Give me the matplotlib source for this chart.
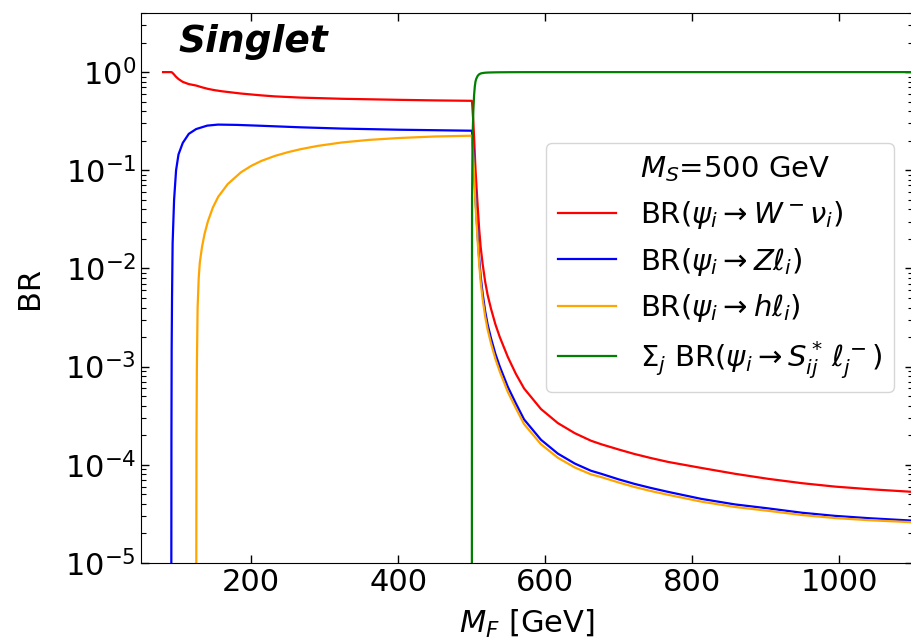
import matplotlib
matplotlib.use("Agg")
import matplotlib.pyplot as plt

# ---- data ----
mf_W = [80, 91, 92, 93, 95, 97.7, 101, 106.8, 115, 125, 133, 141, 150, 160, 186, 213, 232, 267, 323, 400, 450, 500,
        500.3, 501, 502, 503, 504, 505, 506, 508, 510, 512, 514.6, 518, 521.4, 526, 532, 538, 549, 560, 571, 594,
        617, 640, 662, 676, 700, 721, 744, 767, 812, 858, 903, 949, 994, 1040, 1100]
br_W = [1.0, 1.0, 0.995, 0.98, 0.945, 0.895, 0.85, 0.795, 0.755, 0.73, 0.70, 0.675, 0.655, 0.638, 0.605, 0.58, 0.566, 0.55, 0.535, 0.522, 0.515, 0.51,
        0.49, 0.407, 0.309, 0.219, 0.148, 0.100, 0.075, 0.042, 0.025, 0.0165, 0.0112, 0.0074, 0.0054, 0.0039, 0.0027, 0.002, 0.00125, 8.4e-4, 6.0e-4, 3.7e-4,
        2.66e-4, 2.1e-4, 1.76e-4, 1.62e-4, 1.43e-4, 1.29e-4, 1.17e-4, 1.07e-4, 9.3e-5, 8.1e-5, 7.2e-5, 6.5e-5, 6.0e-5, 5.65e-5, 5.3e-5]

mf_Z = [91.2, 91.25, 91.4, 91.7, 92.2, 93, 95, 97.7, 101, 106.8, 115, 125, 140, 154.6, 180, 213.6, 267, 323, 400, 450, 500,
        500.3, 501, 502, 503, 504, 505, 506, 508, 510, 512, 514.6, 518, 521.4, 526, 532, 538, 549, 560, 571, 594,
        617, 640, 662, 676, 700, 721, 744, 767, 812, 858, 903, 949, 994, 1040, 1100]
br_Z = [1e-7, 1e-5, 2e-4, 1.5e-3, 5e-3, 0.018, 0.05, 0.1, 0.145, 0.19, 0.235, 0.263, 0.285, 0.292, 0.29, 0.284, 0.274, 0.266, 0.259, 0.256, 0.253,
        0.243, 0.202, 0.154, 0.109, 0.074, 0.050, 0.0375, 0.021, 0.0125, 0.0083, 0.0056, 0.0037, 0.0027, 0.00195, 0.00135, 0.001, 6.2e-4, 4.2e-4, 2.9e-4, 1.8e-4,
        1.3e-4, 1.03e-4, 8.7e-5, 8.1e-5, 7.1e-5, 6.4e-5, 5.8e-5, 5.3e-5, 4.5e-5, 3.95e-5, 3.6e-5, 3.25e-5, 3.02e-5, 2.86e-5, 2.7e-5]

mf_h = [125.1, 125.2, 125.5, 126, 127, 128.5, 130, 133, 136.4, 141, 147.7, 155, 168, 186, 200, 213.6, 232, 250, 267, 290, 323, 360, 400, 450, 500,
        500.3, 501, 502, 503, 504, 505, 506, 508, 510, 512, 514.6, 518, 521.4, 526, 532, 538, 549, 560, 571, 594,
        617, 640, 662, 676, 700, 721, 744, 767, 812, 858, 903, 949, 994, 1040, 1100]
br_h = [1e-7, 1e-5, 2e-4, 1e-3, 4e-3, 8e-3, 0.0115, 0.0166, 0.0224, 0.0302, 0.0417, 0.0537, 0.0724, 0.0955, 0.111, 0.1245, 0.14, 0.153, 0.164, 0.177, 0.192, 0.204, 0.213, 0.221, 0.225,
        0.214, 0.178, 0.136, 0.096, 0.065, 0.044, 0.033, 0.0185, 0.011, 0.0073, 0.0049, 0.00327, 0.0024, 0.00173, 0.0012, 8.9e-4, 5.5e-4, 3.75e-4, 2.6e-4, 1.62e-4,
        1.18e-4, 9.4e-5, 8.0e-5, 7.5e-5, 6.6e-5, 5.95e-5, 5.4e-5, 4.95e-5, 4.22e-5, 3.72e-5, 3.4e-5, 3.08e-5, 2.87e-5, 2.73e-5, 2.6e-5]

mf_S = [500.02, 500.1, 500.3, 501, 502, 503, 504, 505, 506, 508, 510, 512, 514.6, 518, 521.4, 526, 532, 538, 549, 560, 571, 600, 700, 1100]
br_S = [1e-6, 2e-3, 0.053, 0.213, 0.401, 0.576, 0.713, 0.806, 0.855, 0.918, 0.951, 0.968, 0.978, 0.986, 0.9895, 0.9924, 0.9947, 0.996, 0.9976, 0.9984, 0.9989, 0.9994, 0.9997, 0.9999]

labels = [r"BR$(\psi_i \rightarrow W^-\nu_i)$",
          r"BR$(\psi_i \rightarrow Z\ell_i)$",
          r"BR$(\psi_i \rightarrow h\ell_i)$",
          r"$\Sigma_j$ BR$(\psi_i \rightarrow S^*_{ij}\,\ell_j^-)$"]
colors = ["red", "blue", "orange", "green"]

fig = plt.figure(figsize=(9.12, 6.37), dpi=100)
ax = fig.add_axes([141/912, 74/637, 772/912, 550/637])

ax.plot([], [], ' ', label=r"$M_S$=500 GeV")
for xs, ys, lab, c in zip([mf_W, mf_Z, mf_h, mf_S], [br_W, br_Z, br_h, br_S], labels, colors):
    ax.plot(xs, ys, color=c, lw=1.6, label=lab)

ax.set_yscale('log')
ax.set_xlim(50, 1100)
ax.set_ylim(1e-5, 4)
ax.set_xticks([200, 400, 600, 800, 1000])
ax.tick_params(which='both', direction='in', top=True, right=True, labelsize=22)
ax.tick_params(which='major', length=6, width=1)
ax.tick_params(which='minor', length=3.5, width=0.8)
ax.set_xlabel(r"$M_F$ [GeV]", fontsize=22, labelpad=8)
ax.set_ylabel("BR", fontsize=22, labelpad=15)

ax.text(0.048, 0.947, "Singlet", transform=ax.transAxes, fontsize=27,
        fontweight='bold', fontstyle='italic', ha='left', va='center')

ax.legend(loc='upper right', bbox_to_anchor=(0.975, 0.7636), borderaxespad=0,
          fontsize=21, handlelength=2.0)

fig.savefig("out.png", dpi=100)
